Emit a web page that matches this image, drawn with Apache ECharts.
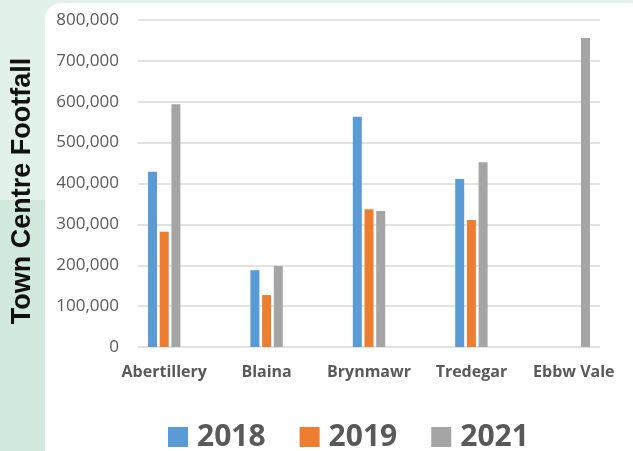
<!DOCTYPE html>
<html>
<head>
<meta charset="utf-8">
<script src="https://cdn.jsdelivr.net/npm/echarts@6/dist/echarts.min.js"></script>
<style>
  html, body { margin: 0; padding: 0; background: #e2f2ea; }
  #chart { width: 633px; height: 451px; }
</style>
</head>
<body>
<div id="chart"></div>
<script>
// town centre footfall by year
const towns = ['Abertillery', 'Blaina', 'Brynmawr', 'Tredegar', 'Ebbw Vale'];
const years = ['2018', '2019', '2021'];
const footfall2018 = [429000, 188000, 563000, 411000, null];
const footfall2019 = [282000, 127000, 337000, 311000, null];
const footfall2021 = [594000, 198000, 333000, 452000, 756000];
const yTicks = [0, 100000, 200000, 300000, 400000, 500000, 600000, 700000, 800000];

const colors = ['#5b9bd5', '#ed7d31', '#a5a5a5'];
const seriesValues = [footfall2018, footfall2019, footfall2021];

let chart = echarts.init(document.getElementById('chart'));

let option = {
    animation: false,
    graphic: [
        { type: 'rect', z: -10, shape: { x: 0, y: 200, width: 60, height: 260 }, style: { fill: '#d0e9dc' } },
        { type: 'rect', z: -9, shape: { x: 45, y: 3, width: 600, height: 470, r: 16 }, style: { fill: '#ffffff' } },
        {
            type: 'text', z: 10,
            x: 23, y: 191, rotation: Math.PI / 2,
            style: {
                text: 'Town Centre Footfall', fill: '#111111',
                font: 'bold 27px "Liberation Sans", Arial, sans-serif',
                align: 'center', verticalAlign: 'middle'
            }
        }
    ],
    color: colors,
    legend: {
        left: 168, top: 422, padding: 0,
        itemWidth: 20, itemHeight: 20, itemGap: 34,
        icon: 'rect',
        data: years,
        textStyle: { fontFamily: 'Open Sans', fontWeight: 'bold', fontSize: 30, color: '#595959', padding: [0, 0, 0, 4] }
    },
    grid: [
        { left: 138, right: 33, top: 20, bottom: 104 },
        { left: 113, right: 8, top: 20, bottom: 104 }
    ],
    xAxis: [
        { gridIndex: 0, type: 'value', show: false },
        {
            gridIndex: 1, type: 'category', data: towns,
            axisLine: { show: false }, axisTick: { show: false },
            axisLabel: { interval: 0, margin: 17, fontFamily: 'Open Sans', fontWeight: 'bold', fontSize: 16, color: '#595959' }
        }
    ],
    yAxis: [
        {
            gridIndex: 0, type: 'value', min: 0, max: 800000, interval: 100000,
            axisLine: { show: false }, axisTick: { show: false },
            splitLine: { lineStyle: { color: '#d9d9d9', width: 1.5 } },
            axisLabel: {
                margin: 19, fontFamily: 'Open Sans', fontSize: 17, color: '#595959',
                formatter: v => yTicks.includes(v) ? v.toLocaleString('en-US') : ''
            }
        },
        { gridIndex: 1, type: 'value', min: 0, max: 800000, show: false }
    ],
    series: years.map((y, i) => ({
        name: y,
        type: 'bar',
        xAxisIndex: 1,
        yAxisIndex: 1,
        data: seriesValues[i],
        barWidth: 9,
        barGap: '30%',
        itemStyle: { color: colors[i] }
    }))
};

chart.setOption(option);
</script>
</body>
</html>
